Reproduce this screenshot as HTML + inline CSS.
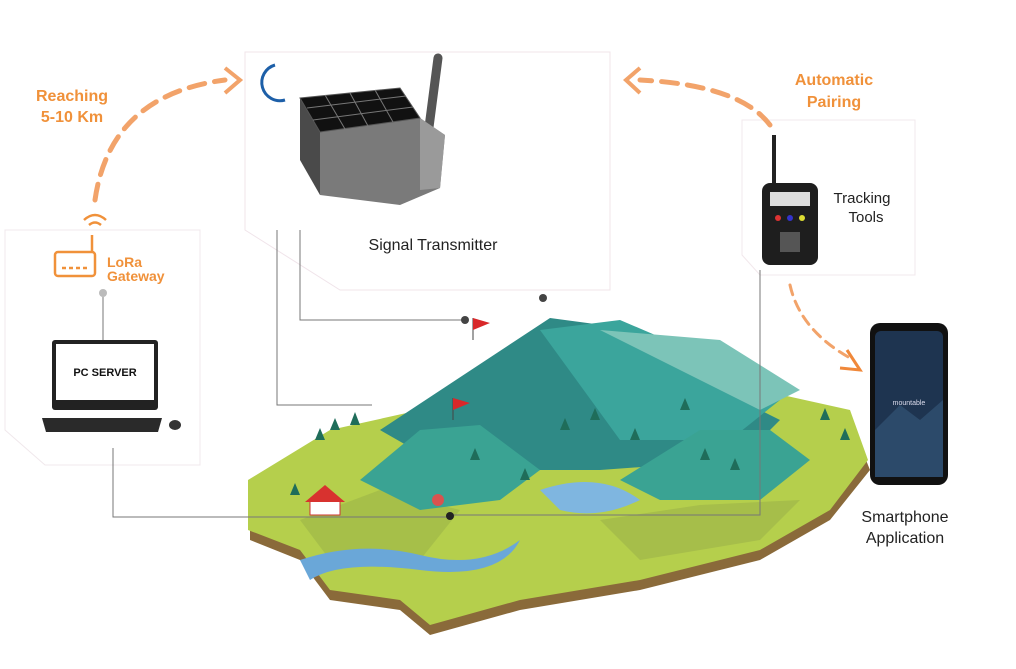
<!DOCTYPE html>
<html><head><meta charset="utf-8"><style>
html,body{margin:0;padding:0;background:#fff;}
svg{display:block;font-family:"Liberation Sans",sans-serif;}
</style></head><body>
<svg width="1016" height="669" viewBox="0 0 1016 669">
<g>
<polygon points="245,52 610,52 610,290 340,290 245,230" fill="#fff" stroke="#f0e4ea" stroke-width="1"/>
</g>
<polygon points="742,120 915,120 915,275 760,275 742,255" fill="#fff" stroke="#f2e8ec"/>
<polygon points="5,230 200,230 200,465 45,465 5,430" fill="#fff" stroke="#f0e8ec"/>

<!-- island -->
<g>
<polygon points="250,490 330,440 420,420 520,415 640,405 760,400 850,420 870,470 830,520 760,560 640,590 520,610 430,635 400,610 330,600 300,560 250,540" fill="#8a6a3a"/>
<polygon points="248,480 330,430 420,410 520,405 640,395 760,390 850,410 868,460 830,510 760,550 640,580 520,600 430,625 400,600 330,590 300,550 248,530" fill="#b5cf4c"/>
<polygon points="300,520 380,490 460,510 420,560 330,560" fill="#a0b848" opacity="0.7"/>
<polygon points="600,520 700,505 800,500 760,540 640,560" fill="#9fb64a" opacity="0.7"/>
<polygon points="380,430 550,318 640,330 720,390 780,420 740,460 600,470 450,470" fill="#2f8a86"/>
<polygon points="540,330 620,320 690,350 780,400 730,440 620,440" fill="#3ba59c"/>
<polygon points="600,330 720,340 800,390 760,410" fill="#7cc4b8"/>
<polygon points="360,480 420,430 480,425 540,470 500,500 420,510" fill="#3aa393"/>
<polygon points="620,480 700,430 770,430 810,460 760,500 660,500" fill="#3aa393"/>
<g fill="#1f6d5a">
<polygon points="330,430 335,418 340,430"/><polygon points="350,425 355,412 360,425"/><polygon points="315,440 320,428 325,440"/>
<polygon points="560,430 565,418 570,430"/><polygon points="590,420 595,408 600,420"/><polygon points="630,440 635,428 640,440"/>
<polygon points="700,460 705,448 710,460"/><polygon points="820,420 825,408 830,420"/><polygon points="840,440 845,428 850,440"/>
<polygon points="290,495 295,483 300,495"/><polygon points="520,480 525,468 530,480"/><polygon points="580,500 585,488 590,500"/>
<polygon points="470,460 475,448 480,460"/><polygon points="680,410 685,398 690,410"/><polygon points="730,470 735,458 740,470"/>
</g>
<path d="M300,560 Q360,540 420,555 T520,540 Q500,580 420,570 T310,580 Z" fill="#6aa7d8"/>
<path d="M540,490 Q600,470 640,500 Q600,520 560,510 Z" fill="#7fb6e0"/>
<polygon points="310,500 325,488 340,500 340,515 310,515" fill="#fff" stroke="#c33"/>
<polygon points="305,502 325,485 345,502" fill="#d8322f"/>
<line x1="473" y1="318" x2="473" y2="340" stroke="#444"/><polygon points="473,318 490,323 473,330" fill="#d8282a"/>
<line x1="453" y1="398" x2="453" y2="420" stroke="#444"/><polygon points="453,398 470,403 453,410" fill="#d8282a"/>
<circle cx="438" cy="500" r="6" fill="#d9534f"/>
</g>

<g stroke="#777" stroke-width="1" fill="none">
<polyline points="113,448 113,517 450,517"/>
<polyline points="277,230 277,405 372,405"/>
<polyline points="300,230 300,320 465,320"/>
<polyline points="760,270 760,515 450,515"/>
<line x1="103" y1="293" x2="103" y2="345"/>
</g>
<circle cx="543" cy="298" r="4" fill="#444"/>
<circle cx="465" cy="320" r="4" fill="#444"/>
<circle cx="450" cy="516" r="4" fill="#222"/>
<circle cx="103" cy="293" r="4" fill="#bbb"/>

<g fill="none" stroke="#f2a36a" stroke-width="5" stroke-dasharray="16,10" stroke-linecap="round">
<path d="M95,200 Q110,95 225,80"/>
<path d="M770,125 Q740,85 640,80"/>
<path d="M790,285 Q800,330 850,358" stroke-width="3" stroke-dasharray="10,7"/>
</g>
<polyline points="225,68 240,80 225,93" fill="none" stroke="#f2a36a" stroke-width="4"/>
<polyline points="640,68 626,80 640,93" fill="none" stroke="#f2a36a" stroke-width="4"/>
<polyline points="847,350 860,370 840,368" fill="none" stroke="#f0883a" stroke-width="3"/>

<text x="72" y="101" text-anchor="middle" font-size="16" font-weight="bold" fill="#f0913a">Reaching</text>
<text x="72" y="122" text-anchor="middle" font-size="16" font-weight="bold" fill="#f0913a">5-10 Km</text>
<text x="834" y="85" text-anchor="middle" font-size="16" font-weight="bold" fill="#f0913a">Automatic</text>
<text x="834" y="107" text-anchor="middle" font-size="16" font-weight="bold" fill="#f0913a">Pairing</text>
<text x="433" y="250" text-anchor="middle" font-size="16" fill="#222">Signal Transmitter</text>
<text x="862" y="203" text-anchor="middle" font-size="15" fill="#222">Tracking</text>
<text x="866" y="222" text-anchor="middle" font-size="15" fill="#222">Tools</text>
<text x="107" y="267" font-size="14" font-weight="bold" fill="#f0913a">LoRa</text>
<text x="107" y="281" font-size="14" font-weight="bold" fill="#f0913a">Gateway</text>
<text x="905" y="522" text-anchor="middle" font-size="16" fill="#222">Smartphone</text>
<text x="905" y="543" text-anchor="middle" font-size="16" fill="#222">Application</text>

<g>
<path d="M275,65 A18,18 0 0,0 285,100" fill="none" stroke="#1d5fa8" stroke-width="3"/>
<line x1="438" y1="58" x2="428" y2="135" stroke="#555" stroke-width="9" stroke-linecap="round"/>
<polygon points="300,98 320,132 320,195 300,160" fill="#4a4a4a"/>
<polygon points="320,132 420,118 445,135 440,188 400,205 320,195" fill="#7a7a7a"/>
<polygon points="420,118 445,135 440,188 420,190" fill="#9a9a9a"/>
<polygon points="300,98 400,88 420,118 320,132" fill="#111" stroke="#555"/>
<g stroke="#777" stroke-width="1">
<line x1="325" y1="95" x2="345" y2="129"/><line x1="350" y1="93" x2="368" y2="126"/><line x1="375" y1="90" x2="393" y2="122"/>
<line x1="307" y1="108" x2="406" y2="96"/><line x1="313" y1="120" x2="413" y2="107"/>
</g>
</g>

<g>
<line x1="774" y1="135" x2="774" y2="185" stroke="#222" stroke-width="4"/>
<rect x="762" y="183" width="56" height="82" rx="8" fill="#1e1e1e"/>
<rect x="770" y="192" width="40" height="14" fill="#ddd"/>
<circle cx="778" cy="218" r="3" fill="#d33"/><circle cx="790" cy="218" r="3" fill="#33c"/><circle cx="802" cy="218" r="3" fill="#dd3"/>
<rect x="780" y="232" width="20" height="20" fill="#555"/>
</g>

<g>
<rect x="870" y="323" width="78" height="162" rx="10" fill="#111"/>
<rect x="875" y="331" width="68" height="146" rx="6" fill="#1e3450"/>
<polygon points="875,430 900,405 920,420 943,400 943,477 875,477" fill="#2c4a6a"/>
<text x="909" y="405" text-anchor="middle" font-size="7" fill="#dde">mountable</text>
</g>

<g fill="none" stroke="#f0913a" stroke-width="2.5">
<path d="M84,220 Q95,210 106,220"/><path d="M89,225 Q95,220 101,225"/>
<line x1="92" y1="235" x2="92" y2="252"/>
<rect x="55" y="252" width="40" height="24" rx="3"/>
<line x1="62" y1="268" x2="88" y2="268" stroke-dasharray="4,3"/>
</g>

<g>
<rect x="52" y="340" width="106" height="70" rx="3" fill="#222"/>
<rect x="56" y="344" width="98" height="56" fill="#fff"/>
<text x="105" y="376" text-anchor="middle" font-size="11" font-weight="bold" fill="#111">PC SERVER</text>
<polygon points="42,418 162,418 158,432 46,432" fill="#2a2a2a"/>
<ellipse cx="175" cy="425" rx="6" ry="5" fill="#333"/>
</g>
</svg>
</body></html>
